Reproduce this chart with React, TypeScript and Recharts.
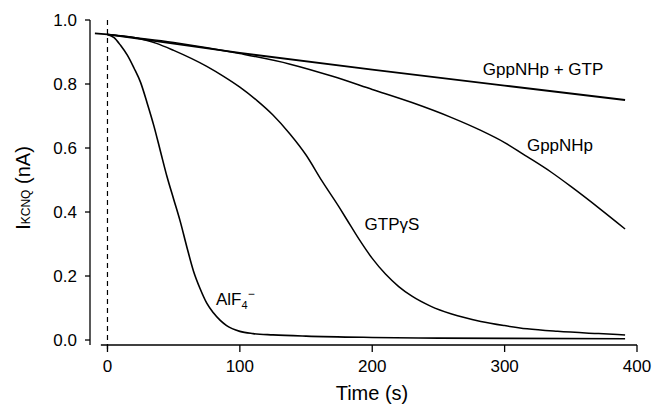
import React from 'react';
import { LineChart, Line, XAxis, YAxis, ReferenceLine } from 'recharts';

// time (s) and current (nA), one pair of arrays per trace
const gppGtpTime = [-9.5, 0, 100, 200, 300, 391];
const gppGtpCurrent = [0.958, 0.955, 0.897, 0.845, 0.795, 0.75];

const gppTime = [0, 50, 100, 138, 170, 200, 230, 260, 282, 300, 317, 335, 350, 372, 391];
const gppCurrent = [0.955, 0.93, 0.895, 0.862, 0.824, 0.783, 0.742, 0.695, 0.655, 0.617, 0.573, 0.525, 0.48, 0.41, 0.347];

const gtpsTime = [0, 20, 37, 50, 75, 88, 100, 113, 125, 138, 150, 162, 175, 181, 190, 200, 210, 220, 230, 244, 260, 282, 300, 317, 340, 371, 391];
const gtpsCurrent = [0.955, 0.945, 0.927, 0.905, 0.855, 0.823, 0.79, 0.748, 0.703, 0.643, 0.578, 0.497, 0.415, 0.375, 0.315, 0.255, 0.206, 0.167, 0.137, 0.106, 0.081, 0.058, 0.045, 0.035, 0.027, 0.02, 0.016];

const alfTime = [0, 5, 10, 15, 20, 25, 30, 35, 40, 45, 50, 55, 60, 65, 70, 75, 80, 85, 90, 100, 110, 125, 150, 200, 250, 300, 391];
const alfCurrent = [0.955, 0.945, 0.92, 0.89, 0.85, 0.805, 0.74, 0.67, 0.59, 0.51, 0.44, 0.37, 0.29, 0.215, 0.16, 0.115, 0.085, 0.062, 0.045, 0.027, 0.02, 0.016, 0.012, 0.008, 0.006, 0.005, 0.004];

const xTicks = [0, 100, 200, 300, 400];
const yTicks = [0, 0.2, 0.4, 0.6, 0.8, 1.0];

const toRows = (t: number[], v: number[]) => t.map((x, i) => ({ t: x, i: v[i] }));

const font = 'Liberation Sans, Arial, Helvetica, sans-serif';
const X_MIN = -13.2;
const Y_MIN = -0.0156;

export default function App() {
  return (
    <div style={{ position: 'absolute', left: 0, top: 0, width: 652, height: 412, background: '#fff' }}>
      <LineChart width={652} height={412} margin={{ top: 20, right: 15, bottom: 0, left: 0 }}>
        <XAxis
          type="number"
          dataKey="t"
          domain={[X_MIN, 400]}
          ticks={xTicks}
          allowDataOverflow
          axisLine={false}
          tickSize={7}
          tickMargin={8}
          height={67}
          tickLine={{ stroke: '#000', strokeWidth: 1.3 }}
          tick={{ fill: '#000', fontSize: 17, fontFamily: font }}
        />
        <YAxis
          type="number"
          domain={[Y_MIN, 1]}
          ticks={yTicks}
          allowDataOverflow
          width={90}
          tickSize={5}
          tickMargin={8}
          tickFormatter={(v: number) => v.toFixed(1)}
          axisLine={{ stroke: '#000', strokeWidth: 1.3 }}
          tickLine={{ stroke: '#000', strokeWidth: 1.3 }}
          tick={{ fill: '#000', fontSize: 17, fontFamily: font }}
        />
        <ReferenceLine
          segment={[{ x: -5, y: Y_MIN }, { x: 400, y: Y_MIN }]}
          stroke="#000"
          strokeWidth={1.3}
          ifOverflow="visible"
        />
        <ReferenceLine
          segment={[{ x: 0, y: 1.0 }, { x: 0, y: -0.03 }]}
          stroke="#000"
          strokeWidth={1.2}
          strokeDasharray="5 4"
          ifOverflow="visible"
        />
        <Line data={toRows(gppGtpTime, gppGtpCurrent)} dataKey="i" type="linear" stroke="#000" strokeWidth={1.8} dot={false} isAnimationActive={false} />
        <Line data={toRows(gppTime, gppCurrent)} dataKey="i" type="monotone" stroke="#000" strokeWidth={1.5} dot={false} isAnimationActive={false} />
        <Line data={toRows(gtpsTime, gtpsCurrent)} dataKey="i" type="monotone" stroke="#000" strokeWidth={1.5} dot={false} isAnimationActive={false} />
        <Line data={toRows(alfTime, alfCurrent)} dataKey="i" type="monotone" stroke="#000" strokeWidth={1.6} dot={false} isAnimationActive={false} />
      </LineChart>
      <svg width={652} height={412} style={{ position: 'absolute', left: 0, top: 0, pointerEvents: 'none' }} fontFamily={font} fill="#000">
        <text x={543} y={75} fontSize={17} textAnchor="middle">GppNHp + GTP</text>
        <text x={560} y={151} fontSize={17} textAnchor="middle">GppNHp</text>
        <text x={392} y={230} fontSize={17} textAnchor="middle">GTPγS</text>
        <text x={216} y={305} fontSize={17}>
          AlF<tspan fontSize={11} dy={4}>4</tspan>
          <tspan fontSize={12} dy={-11}>−</tspan>
        </text>
        <text x={372} y={400} fontSize={20} textAnchor="middle">Time (s)</text>
        <text transform="translate(30,188) rotate(-90)" fontSize={20} textAnchor="middle">
          I<tspan fontSize={12}>KCNQ</tspan> (nA)
        </text>
      </svg>
    </div>
  );
}
